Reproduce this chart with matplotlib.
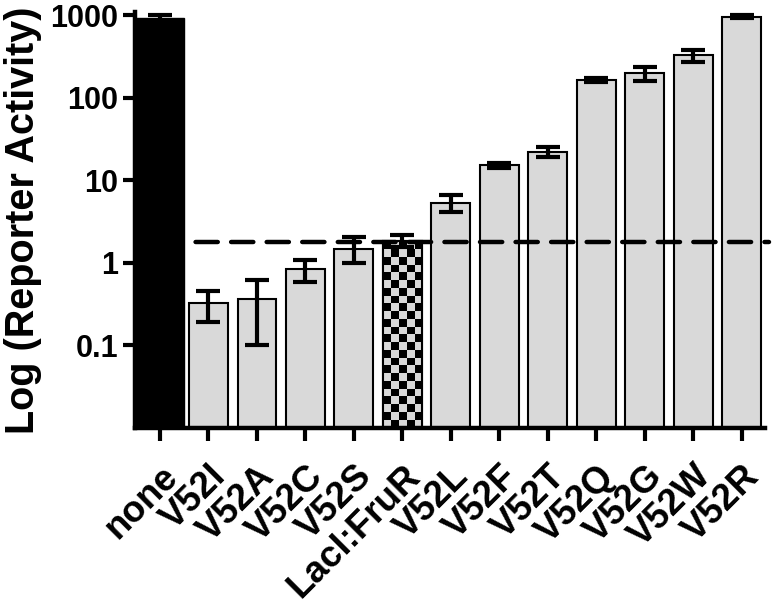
import numpy as np
import matplotlib
matplotlib.use("Agg")
import matplotlib.pyplot as plt
from matplotlib.transforms import blended_transform_factory, ScaledTranslation
from matplotlib.colors import ListedColormap

categories = ["none", "V52I", "V52A", "V52C", "V52S", "LacI:FruR", "V52L",
              "V52F", "V52T", "V52Q", "V52G", "V52W", "V52R"]
values = [930, 0.33, 0.37, 0.84, 1.49, 1.85, 5.4, 15.3, 22.3, 165, 200, 330, 965]
err_low = [80, 0.14, 0.27, 0.25, 0.49, 0.30, 1.3, 1.2, 2.8, 8, 40, 56, 35]
err_high = [80, 0.13, 0.25, 0.25, 0.59, 0.33, 1.2, 1.2, 2.9, 8, 36, 51, 35]
threshold = 1.8
yticks = [0.1, 1, 10, 100, 1000]
ytick_labels = ["0.1", "1", "10", "100", "1000"]

plt.rcParams['font.family'] = ['Liberation Sans', 'DejaVu Sans']
plt.rcParams['font.weight'] = 'bold'

fig = plt.figure(figsize=(7.74, 6.13), dpi=100)
ax = fig.add_axes([0.1744, 0.3018, 0.9884 - 0.1744, 0.9804 - 0.3018])

x = np.arange(len(categories))
gray = "#d9d9d9"
wid = 0.80

for i in range(1, len(categories)):
    ax.bar(x[i], values[i], width=wid, color=gray, edgecolor="black",
           linewidth=1.5, zorder=2)

ax.bar(x[0], values[0], width=1.0, color="black", edgecolor="black",
       linewidth=1.0, zorder=4)

ax.set_yscale("log")
ax.set_ylim(0.01, 1100)
ax.set_xlim(-0.515, len(categories) - 1 + 0.48)

# checkered bar (LacI:FruR)
li = categories.index("LacI:FruR")
fig.canvas.draw()
ax_h_px = ax.bbox.height
ax_w_px = ax.bbox.width
span = ax.get_xlim()[1] - ax.get_xlim()[0]
bar_px = wid * ax_w_px / span
ncols = 5
sq = bar_px / ncols
nrows = int(np.ceil(ax_h_px / sq))
checker = (np.add.outer(np.arange(nrows), np.arange(ncols)) % 2).astype(float)
trans = blended_transform_factory(ax.transData, ax.transAxes)
cmap = ListedColormap([gray, "black"])
patch = ax.patches[li - 1]
im = ax.imshow(checker, cmap=cmap, interpolation="nearest", aspect="auto",
               extent=(x[li] - wid / 2, x[li] + wid / 2, 0, nrows * sq / ax_h_px),
               transform=trans, origin="lower", zorder=2.5)
im.set_clip_path(patch)
ax.bar(x[li], values[li], width=wid, facecolor="none", edgecolor="black",
       linewidth=1.5, zorder=2.6)
ax.set_xlim(-0.515, len(categories) - 1 + 0.48)
ax.set_ylim(0.01, 1100)

ax.plot([x[0], len(categories) - 1 + 0.56], [threshold, threshold], color="black",
        lw=3.2, dashes=(5, 3.0), dash_capstyle="round", zorder=3, clip_on=False)

ax.errorbar(x, values, yerr=[err_low, err_high], fmt="none", ecolor="black",
            elinewidth=3, capsize=8.3, capthick=3, zorder=5)

ax.set_yticks(yticks)
ax.set_yticklabels(ytick_labels)
ax.yaxis.set_minor_locator(matplotlib.ticker.NullLocator())
ax.set_xticks(x)
ax.set_xticklabels(categories, rotation=45, ha="right", rotation_mode="anchor",
                   fontsize=26.5, fontweight="bold")
offset = ScaledTranslation(8 / 72, 0, fig.dpi_scale_trans)
for lab in ax.get_xticklabels():
    lab.set_transform(lab.get_transform() + offset)
for lab in ax.get_yticklabels():
    lab.set_fontsize(22)
    lab.set_fontweight("bold")

ax.tick_params(axis="both", which="major", length=9, width=3, direction="out",
               color="black")
ax.tick_params(axis="x", pad=13)
ax.tick_params(axis="y", pad=3)

for s in ["top", "right"]:
    ax.spines[s].set_visible(False)
for s in ["left", "bottom"]:
    ax.spines[s].set_linewidth(3.2)

ax.set_ylabel("Log (Reporter Activity)", fontsize=28.5, fontweight="bold", labelpad=6)

fig.savefig("out.png", dpi=100)
